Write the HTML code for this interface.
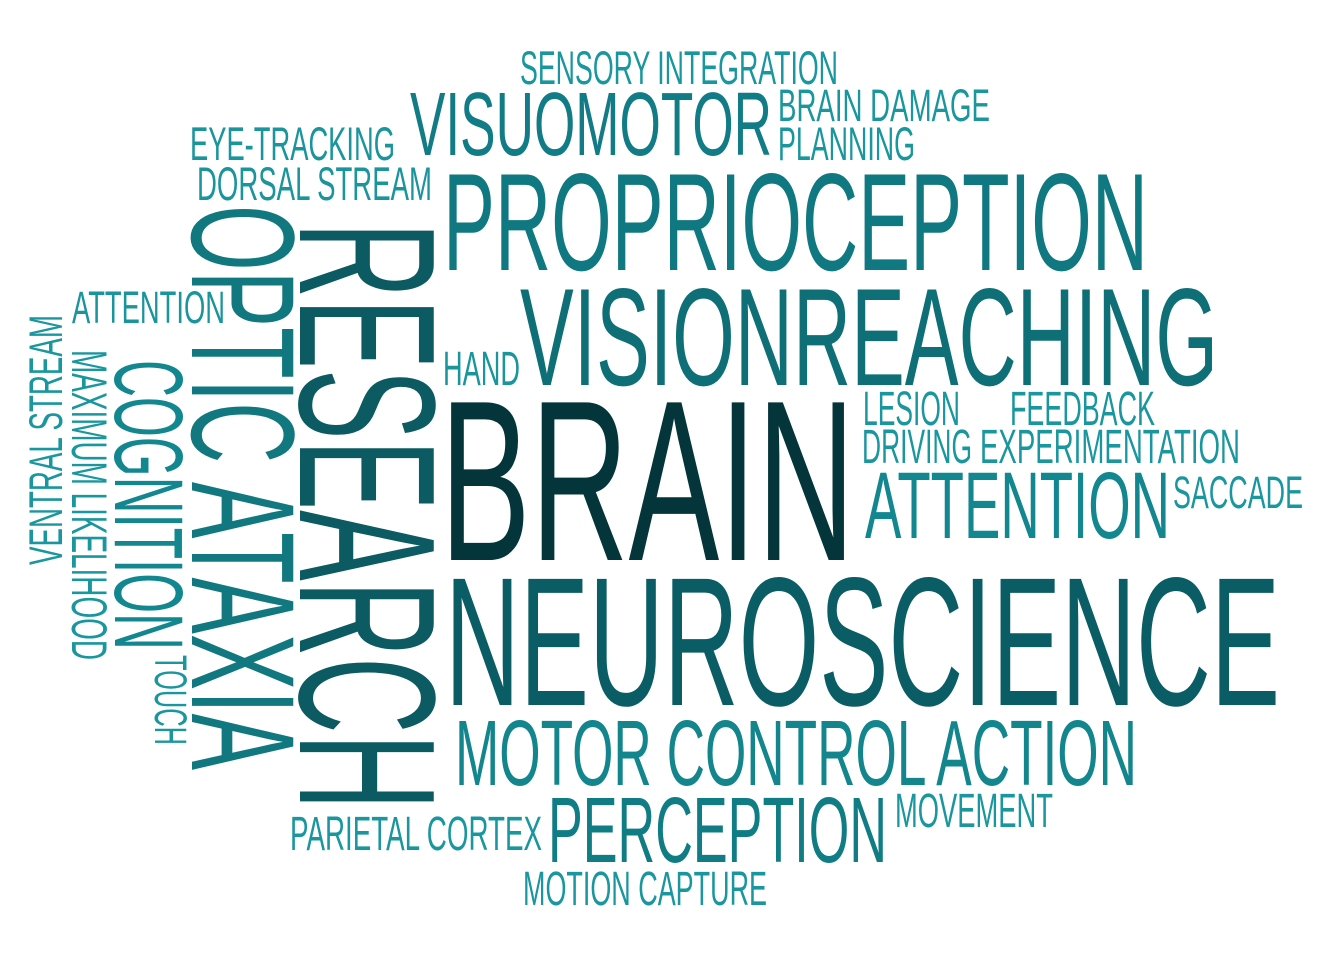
<!DOCTYPE html>
<html><head><meta charset="utf-8"><style>
html,body{margin:0;padding:0;background:#fff;}
svg{display:block;}
text{font-family:"Liberation Sans",sans-serif;}
</style></head><body>
<svg id="cloud" width="1338" height="958" viewBox="0 0 1338 958" xmlns="http://www.w3.org/2000/svg"></svg>
<script>
// Each word: text, left/start x, top y, right x (or end y), bottom y, rotation, color
const words = ["SENSORY INTEGRATION","VISUOMOTOR","BRAIN DAMAGE","PLANNING","EYE-TRACKING","DORSAL STREAM","PROPRIOCEPTION","ATTENTION","VISIONREACHING","HAND","BRAIN","LESION","FEEDBACK","DRIVING","EXPERIMENTATION","ATTENTION","SACCADE","NEUROSCIENCE","MOTOR CONTROL ACTION","PERCEPTION","MOVEMENT","PARIETAL CORTEX","MOTION CAPTURE","OPTIC ATAXIA","RESEARCH","COGNITION","TOUCH","MAXIMUM LIKELIHOOD","VENTRAL STREAM"];
const x0s = [520,410,778,778,190,197,443,72,520,443,440,863,1010,862,980,865,1173,445,455,548,895,290,523,192,300,115,155,72,28];
const y0s = [50,90,88,126,126,166,170,290,285,350,395,390,390,428,428,470,475,573,718,795,792,815,870,205,222,360,655,350,315];
const x1s = [838,772,990,915,395,432,1148,225,1218,520,855,960,1155,972,1240,1170,1303,1280,1137,887,1053,542,767,298,440,185,188,108,62];
const y1s = [84,155,121,160,160,200,270,323,385,385,560,425,425,463,463,538,508,705,785,862,827,850,905,770,810,650,745,660,565];
const rots = [0,0,0,0,0,0,0,0,0,0,0,0,0,0,0,0,0,0,0,0,0,0,0,90,90,90,90,90,-90];
const colors = ["#1a979e","#117c85","#1a969d","#1a969d","#1a959c","#1a959c","#107880","#1a959c","#0f6f77","#1a959c","#04353a","#1a979e","#1a979e","#1a979e","#1a979e","#13878f","#1a979e","#0b5d65","#13858d","#107d85","#1a979e","#1a979e","#1a979e","#127880","#0c5a62","#13878f","#1a979e","#1a979e","#1a979e"];
const svg = document.getElementById('cloud');
const NS = 'http://www.w3.org/2000/svg';
for (let i = 0; i < words.length; i++) {
  const t = document.createElementNS(NS, 'text');
  
  
  const w = x1s[i] - x0s[i], h = y1s[i] - y0s[i];
  let len, cap;
  if (rots[i] === 0) { len = w; cap = h; } else { len = h; cap = w; }
  const fs = cap / 0.72;
  t.setAttribute('font-size', fs.toFixed(1));
  t.setAttribute('fill', colors[i]);
  t.setAttribute('textLength', len);
  t.setAttribute('lengthAdjust', 'spacingAndGlyphs');
  t.setAttribute('x', 0);
  t.setAttribute('y', 0);
  let tr;
  if (rots[i] === 0) tr = 'translate(' + x0s[i] + ',' + y1s[i] + ')';
  else if (rots[i] === 90) tr = 'translate(' + x0s[i] + ',' + y0s[i] + ') rotate(90)';
  else tr = 'translate(' + x1s[i] + ',' + y1s[i] + ') rotate(-90)';
  t.setAttribute('transform', tr);
  t.textContent = words[i];
  svg.appendChild(t);
}
</script>
</body></html>
